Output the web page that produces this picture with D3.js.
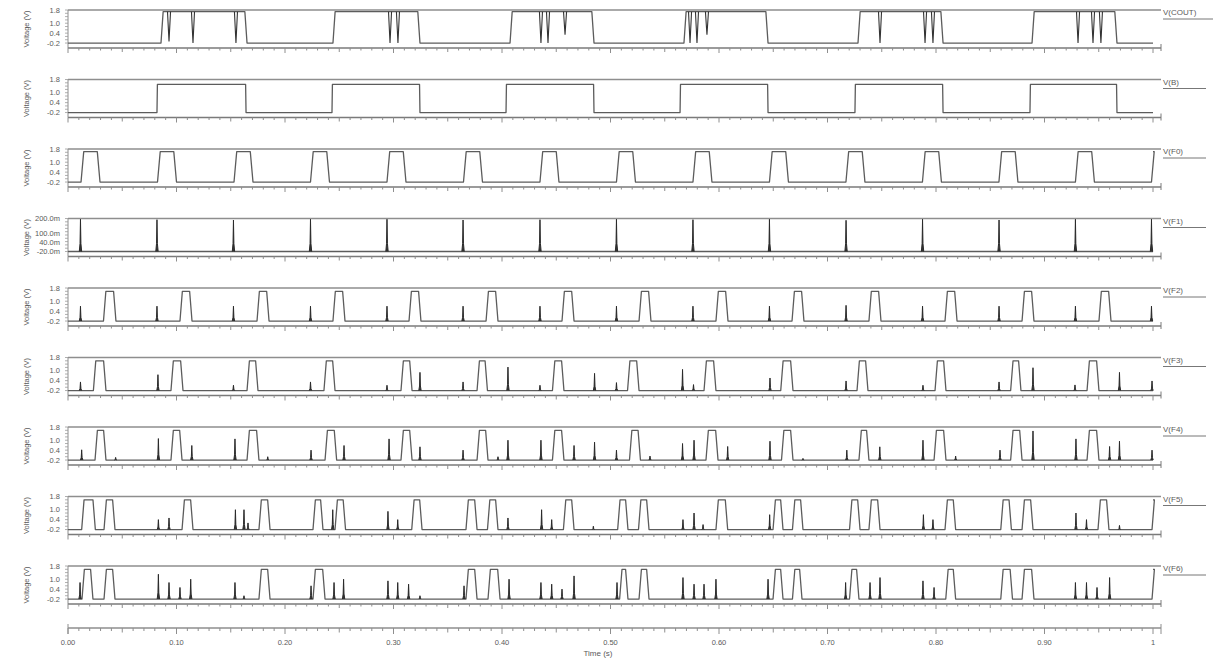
<!DOCTYPE html>
<html>
<head>
<meta charset="utf-8">
<script src="https://cdn.jsdelivr.net/npm/d3@7"></script>
<style>
  html, body { margin: 0; padding: 0; background: #fff; }
  svg { display: block; }
  text { font-family: "Liberation Sans", "DejaVu Sans", sans-serif; fill: #5a5a5a; }
</style>
</head>
<body>
<svg id="chart" width="1216" height="662"></svg>
<script>
// ---- transient simulation traces (time in seconds, voltage in V, F1 in mV) ----
const signalNames = ["V(COUT)", "V(B)", "V(F0)", "V(F1)", "V(F2)", "V(F3)", "V(F4)", "V(F5)", "V(F6)"];

const timeTicks = [0, 0.1, 0.2, 0.3, 0.4, 0.5, 0.6, 0.7, 0.8, 0.9, 1];
const timeTickLabels = ["0.00", "0.10", "0.20", "0.30", "0.40", "0.50", "0.60", "0.70", "0.80", "0.90", "1"];
const voltTicks = [1.8, 1.0, 0.4, -0.2];
const voltTickLabels = ["1.8", "1.0", "0.4", "-0.2"];
const f1Ticks = [200, 100, 40, -20];
const f1TickLabels = ["200.0m", "100.0m", "40.0m", "-20.0m"];

// high intervals [start, end] and narrow glitches [time, value]
const coutPulses = [[0.0857, 0.1650], [0.2442, 0.3244], [0.4074, 0.4848], [0.5677, 0.6452], [0.7281, 0.8065], [0.8885, 0.9668]];
const coutDips = [[0.0931, -0.1], [0.1152, -0.2], [0.1548, -0.2], [0.2968, -0.2], [0.3041, -0.2],
  [0.4359, -0.2], [0.4424, -0.2], [0.4581, 0.3], [0.5733, -0.2], [0.5797, -0.2], [0.5889, 0.3],
  [0.7484, -0.2], [0.7899, -0.2], [0.7972, -0.2], [0.9309, -0.2], [0.9447, -0.2], [0.9520, -0.2]];

const bPulses = [[0.0820, 0.1641], [0.2433, 0.3244], [0.4037, 0.4848], [0.5641, 0.6452], [0.7253, 0.8065], [0.8866, 0.9668]];

const f0Pulses = [[0.0120, 0.0295], [0.0825, 0.1000], [0.1530, 0.1705], [0.2235, 0.2410], [0.2940, 0.3115],
  [0.3645, 0.3820], [0.4350, 0.4525], [0.5055, 0.5230], [0.5760, 0.5935], [0.6465, 0.6640],
  [0.7170, 0.7345], [0.7875, 0.8050], [0.8580, 0.8755], [0.9285, 0.9460], [0.9986, 1.0160]];

const f1Spikes = [[0.0115, 195], [0.0820, 192], [0.1525, 190], [0.2235, 195], [0.2940, 195], [0.3641, 190],
  [0.4350, 192], [0.5055, 195], [0.5760, 192], [0.6465, 195], [0.7171, 188], [0.7876, 195],
  [0.8581, 190], [0.9285, 195], [0.9986, 195]];

const f2Pulses = [[0.0327, 0.0442], [0.1032, 0.1143], [0.1742, 0.1853], [0.2442, 0.2553], [0.3143, 0.3253],
  [0.3853, 0.3963], [0.4553, 0.4664], [0.5263, 0.5373], [0.5972, 0.6083], [0.6673, 0.6783],
  [0.7382, 0.7493], [0.8083, 0.8194], [0.8793, 0.8903], [0.9502, 0.9613]];
const f2Spikes = [[0.0115, 0.7], [0.0820, 0.7], [0.1525, 0.7], [0.2235, 0.7], [0.2940, 0.7], [0.3641, 0.7],
  [0.4350, 0.7], [0.5055, 0.7], [0.5760, 0.7], [0.6465, 0.7], [0.7171, 0.75], [0.7876, 0.7],
  [0.8581, 0.7], [0.9285, 0.7], [0.9986, 0.7]];

const f3Pulses = [[0.0234, 0.0350], [0.0949, 0.1060], [0.1650, 0.1751], [0.2359, 0.2461], [0.3069, 0.3171],
  [0.3770, 0.3866], [0.4465, 0.4571], [0.5157, 0.5263], [0.5862, 0.5972], [0.6569, 0.6682],
  [0.7272, 0.7373], [0.7991, 0.8092], [0.8688, 0.8783], [0.9392, 0.9502]];
const f3Spikes = [[0.0115, 0.32], [0.0829, 0.76], [0.1525, 0.12], [0.2235, 0.32], [0.2940, 0.12], [0.3244, 0.9],
  [0.3641, 0.32], [0.4055, 1.22], [0.4350, 0.12], [0.4853, 0.84], [0.5055, 0.28], [0.5664, 1.08],
  [0.5765, 0.16], [0.6470, 0.56], [0.7171, 0.38], [0.7880, 0.12], [0.8581, 0.32], [0.8894, 1.18],
  [0.9281, 0.14], [0.9691, 0.9], [0.9991, 0.38]];

const f4Pulses = [[0.0249, 0.0350], [0.0949, 0.1051], [0.1650, 0.1760], [0.2369, 0.2476], [0.3069, 0.3171],
  [0.3770, 0.3871], [0.4465, 0.4571], [0.5175, 0.5276], [0.5880, 0.5991], [0.6576, 0.6682],
  [0.7290, 0.7382], [0.7982, 0.8092], [0.8688, 0.8793], [0.9392, 0.9502]];
const f4Spikes = [[0.0126, 0.42], [0.0439, -0.04], [0.0833, 1.1], [0.1141, 0.68], [0.1539, 1.08], [0.1841, 0.0],
  [0.2240, 0.4], [0.2544, 0.68], [0.2959, 1.08], [0.3244, 0.6], [0.3641, 0.4], [0.3963, 0.0],
  [0.4055, 1.0], [0.4359, 1.0], [0.4664, 0.68], [0.4853, 0.88], [0.5055, 0.4], [0.5364, 0.04],
  [0.5664, 0.8], [0.5770, 1.0], [0.6080, 0.62], [0.6470, 0.94], [0.6774, -0.1], [0.7178, 0.4],
  [0.7482, 0.6], [0.7880, 1.0], [0.8181, 0.04], [0.8590, 0.4], [0.8894, 1.56], [0.9290, 1.08],
  [0.9600, 0.62], [0.9691, 0.94], [0.9991, 0.4]];

const f5Pulses = [[0.0126, 0.0252], [0.0332, 0.0433], [0.1051, 0.1152], [0.1760, 0.1862], [0.2258, 0.2350],
  [0.2461, 0.2558], [0.3168, 0.3263], [0.3668, 0.3770], [0.3866, 0.3963], [0.4566, 0.4664],
  [0.5066, 0.5161], [0.5258, 0.5355], [0.5972, 0.6080], [0.6498, 0.6590], [0.6677, 0.6774],
  [0.7203, 0.7300], [0.7382, 0.7484], [0.8083, 0.8181], [0.8597, 0.8695], [0.8793, 0.8894],
  [0.9493, 0.9594], [0.9991, 1.0200]];
const f5Spikes = [[0.0833, 0.4], [0.0931, 0.5], [0.1543, 1.0], [0.1622, 1.0], [0.1659, 0.2], [0.2440, 1.0],
  [0.2949, 0.9], [0.3039, 0.4], [0.4055, 0.5], [0.4365, 1.0], [0.4458, 0.4], [0.4842, 0.0],
  [0.5668, 0.4], [0.5770, 0.8], [0.5853, 0.1], [0.6467, 0.7], [0.7884, 0.7], [0.7972, 0.4],
  [0.9290, 0.8], [0.9387, 0.4], [0.9691, 0.05]];

const f6Pulses = [[0.0129, 0.0230], [0.0332, 0.0433], [0.1760, 0.1862], [0.2258, 0.2369], [0.3668, 0.3770],
  [0.3871, 0.3982], [0.5084, 0.5161], [0.5263, 0.5355], [0.6498, 0.6590], [0.6677, 0.6765],
  [0.7203, 0.7290], [0.8090, 0.8181], [0.8597, 0.8705], [0.8793, 0.8903], [0.9991, 1.0200]];
const f6Spikes = [[0.0111, 0.8], [0.0833, 1.3], [0.0931, 0.8], [0.1032, 0.5], [0.1131, 1.0], [0.1539, 0.8],
  [0.1622, 0.0], [0.2240, 0.6], [0.2452, 0.8], [0.2540, 1.0], [0.2949, 0.9], [0.3039, 0.8],
  [0.3139, 0.7], [0.3244, 0.0], [0.3650, 0.6], [0.4065, 1.0], [0.4359, 0.8], [0.4458, 0.7],
  [0.4553, 0.4], [0.4664, 1.2], [0.5060, 0.8], [0.5668, 1.1], [0.5770, 0.7], [0.5862, 0.7],
  [0.5972, 1.0], [0.6452, 1.0], [0.7167, 0.8], [0.7392, 0.8], [0.7484, 1.1], [0.7880, 0.9],
  [0.7982, 0.5], [0.9285, 0.8], [0.9387, 0.8], [0.9484, 0.5], [0.9600, 1.1]];

// ---- layout ----
const svg = d3.select("#chart");
const x = d3.scaleLinear().domain([0, 1]).range([68, 1153]);
const xEnd = 1161;
const panelGap = 69.5, firstTop = 10, panelH = 38;

const panels = [
  { pulses: coutPulses, dips: coutDips, hi: 1.7, low: -0.2, edge: 0.002 },
  { pulses: bPulses, hi: 1.5, low: -0.2, edge: 0.0004 },
  { pulses: f0Pulses, hi: 1.64, low: -0.2, edge: 0.0025 },
  { pulses: [], spikes: f1Spikes, low: -20, mv: true },
  { pulses: f2Pulses, spikes: f2Spikes, hi: 1.6, low: -0.2, edge: 0.0022 },
  { pulses: f3Pulses, spikes: f3Spikes, hi: 1.6, low: -0.2, edge: 0.0022 },
  { pulses: f4Pulses, spikes: f4Spikes, hi: 1.6, low: -0.2, edge: 0.0022 },
  { pulses: f5Pulses, spikes: f5Spikes, hi: 1.6, low: -0.2, edge: 0.0022 },
  { pulses: f6Pulses, spikes: f6Spikes, hi: 1.6, low: -0.2, edge: 0.0022 }
];

const minorTimeTicks = d3.range(0, 101).map(i => i / 100);
const frameColor = "#8e8e8e";

panels.forEach((p, i) => {
  const top = firstTop + i * panelGap;
  const y = p.mv
    ? d3.scaleLinear().domain([-53.3, 200]).range([top + panelH, top])
    : d3.scaleLinear().domain([-0.5, 1.8]).range([top + panelH, top]);
  const g = svg.append("g");
  const topVal = y.domain()[1];

  // frame: top reference line, left axis, bottom time axis
  g.append("line").attr("x1", x(0)).attr("x2", xEnd).attr("y1", y(topVal)).attr("y2", y(topVal))
    .attr("stroke", frameColor).attr("stroke-width", 1.4);
  g.append("line").attr("x1", x(0)).attr("x2", x(0)).attr("y1", top).attr("y2", top + panelH)
    .attr("stroke", frameColor).attr("stroke-width", 1);
  g.append("line").attr("x1", x(0)).attr("x2", xEnd).attr("y1", top + panelH).attr("y2", top + panelH)
    .attr("stroke", "#7a7a7a").attr("stroke-width", 1.3);
  g.append("line").attr("x1", xEnd).attr("x2", xEnd).attr("y1", top + panelH - 4).attr("y2", top + panelH + 3)
    .attr("stroke", "#7a7a7a");
  g.selectAll("line.tt").data(minorTimeTicks).enter().append("line")
    .attr("x1", d => x(d)).attr("x2", d => x(d))
    .attr("y1", top + panelH)
    .attr("y2", (d, k) => top + panelH + (k % 10 === 0 ? 5 : (k % 5 === 0 ? 4 : 2.5)))
    .attr("stroke", frameColor).attr("stroke-width", 1);

  // left ticks and labels
  const ticks = p.mv ? f1Ticks : voltTicks;
  const tickLabels = p.mv ? f1TickLabels : voltTickLabels;
  const lowVal = p.mv ? -20 : -0.2;
  const minor = d3.range(0, 11).map(k => lowVal + (topVal - lowVal) * k / 10);
  g.selectAll("line.vt").data(minor).enter().append("line")
    .attr("x1", x(0) - 3).attr("x2", x(0)).attr("y1", d => y(d)).attr("y2", d => y(d))
    .attr("stroke", "#9a9a9a").attr("stroke-width", 0.8);
  g.selectAll("text.vl").data(ticks).enter().append("text")
    .attr("x", 60).attr("y", d => y(d) + 2.5)
    .attr("text-anchor", "end").attr("font-size", 7.5)
    .text((d, k) => tickLabels[k]);
  g.append("text")
    .attr("transform", `translate(29,${top + 19}) rotate(-90)`)
    .attr("text-anchor", "middle").attr("font-size", 7.5)
    .text("Voltage (V)");

  // trace label on the right
  g.append("text").attr("x", 1163).attr("y", top + 5).attr("font-size", 8).text(signalNames[i]);
  g.append("line").attr("x1", 1163).attr("x2", i === 0 ? 1213 : 1206)
    .attr("y1", top + 9).attr("y2", top + 9).attr("stroke", "#777").attr("stroke-width", 1);

  // main trace: baseline with trapezoidal pulses
  const pts = [[0, p.low]];
  p.pulses.forEach(([s, e]) => {
    pts.push([s, p.low], [s + p.edge, p.hi]);
    if (e <= 1) pts.push([e - p.edge, p.hi], [e, p.low]);
    else pts.push([1, p.hi]);
  });
  if (pts[pts.length - 1][0] < 1) pts.push([1, p.low]);
  const line = d3.line().x(d => x(d[0])).y(d => y(d[1]));
  g.append("path").attr("d", line(pts)).attr("fill", "none")
    .attr("stroke", "#5c5c5c").attr("stroke-width", 1.3).attr("stroke-linejoin", "round");

  // narrow glitches rising from the low level (a sharp tip over a wider foot)
  (p.spikes || []).forEach(([t, v]) => {
    const foot = p.low + (v - p.low) * 0.25;
    g.append("path")
      .attr("d", line([[t - 0.0011, p.low], [t - 0.0004, foot], [t, v], [t + 0.0004, foot], [t + 0.0011, p.low]]))
      .attr("fill", "#333").attr("stroke", "#2a2a2a").attr("stroke-width", 1);
  });
  // narrow dips falling from the high level
  (p.dips || []).forEach(([t, v]) => {
    g.append("path").attr("d", line([[t - 0.0014, p.hi], [t, v], [t + 0.0014, p.hi]]))
      .attr("fill", "none").attr("stroke", "#333").attr("stroke-width", 1.1);
  });
});

// ---- shared time axis ----
const axisY = 628;
const ax = svg.append("g");
ax.append("line").attr("x1", x(0)).attr("x2", xEnd).attr("y1", axisY).attr("y2", axisY)
  .attr("stroke", frameColor).attr("stroke-width", 1.3);
ax.append("line").attr("x1", x(0)).attr("x2", x(0)).attr("y1", axisY - 4).attr("y2", axisY + 6).attr("stroke", frameColor);
ax.append("line").attr("x1", xEnd).attr("x2", xEnd).attr("y1", axisY - 4).attr("y2", axisY + 6).attr("stroke", frameColor);
ax.selectAll("line.t").data(minorTimeTicks).enter().append("line")
  .attr("x1", d => x(d)).attr("x2", d => x(d))
  .attr("y1", axisY)
  .attr("y2", (d, k) => axisY + (k % 10 === 0 ? 6 : (k % 5 === 0 ? 4.5 : 3)))
  .attr("stroke", frameColor).attr("stroke-width", 1);
ax.selectAll("text.tl").data(timeTicks).enter().append("text")
  .attr("x", d => x(d)).attr("y", 645).attr("text-anchor", "middle").attr("font-size", 7.5)
  .text((d, k) => timeTickLabels[k]);
ax.append("text").attr("x", 598).attr("y", 656).attr("text-anchor", "middle").attr("font-size", 8)
  .text("Time (s)");
</script>
</body>
</html>
